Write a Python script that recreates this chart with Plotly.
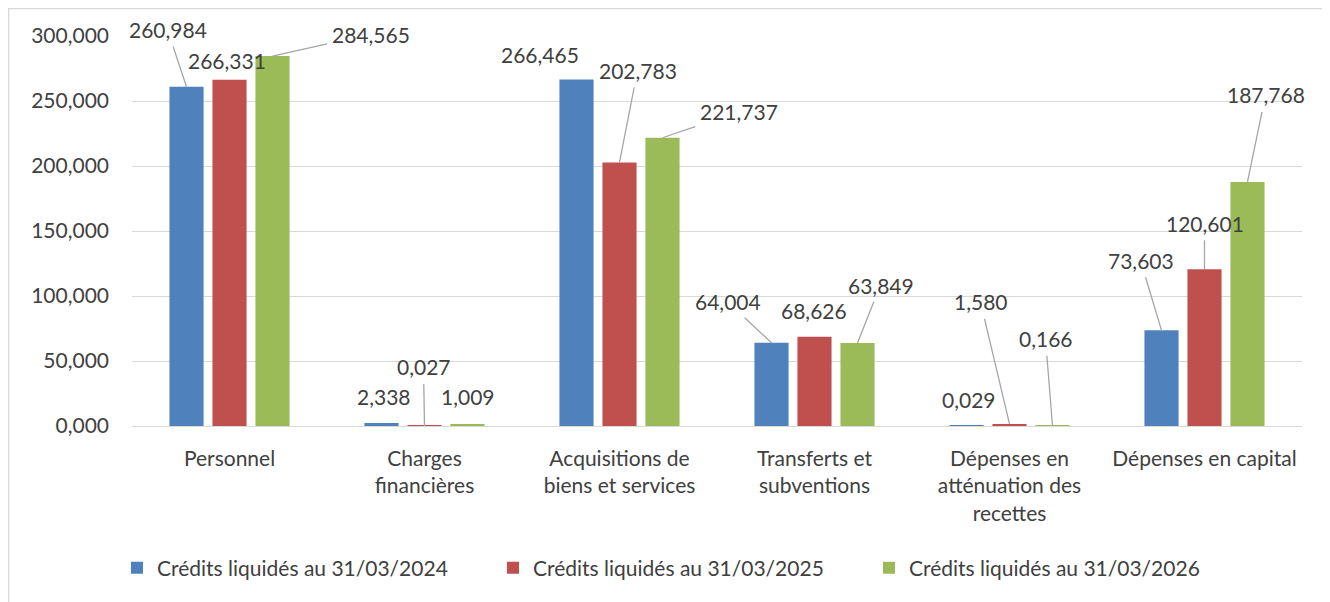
import plotly.graph_objects as go

# ---- data ----
categories = ["Personnel", "Charges financières", "Acquisitions de biens et services",
              "Transferts et subventions", "Dépenses en atténuation des recettes",
              "Dépenses en capital"]
tick_labels = ["Personnel", "Charges<br>financières", "Acquisitions de<br>biens et services",
               "Transferts et<br>subventions", "Dépenses en<br>atténuation des<br>recettes",
               "Dépenses en capital"]
series_names = ["Crédits liquidés au 31/03/2024", "Crédits liquidés au 31/03/2025",
                "Crédits liquidés au 31/03/2026"]
credits_2024 = [260.984, 2.338, 266.465, 64.004, 0.029, 73.603]
credits_2025 = [266.331, 0.027, 202.783, 68.626, 1.580, 120.601]
credits_2026 = [284.565, 1.009, 221.737, 63.849, 0.166, 187.768]
y_tick_values = [0, 50, 100, 150, 200, 250, 300]

# ---- styles ----
colors = ["#4F81BD", "#C0504D", "#9BBB59"]
text_color = "#404040"
grid_color = "#D9D9D9"
leader_color = "#A6A6A6"
FONT = "Lato"
FS = 21

# label offsets (pixels, relative to bar top) and whether a leader line is drawn
label_offsets = [
    [(-19, -57, True), (2, -26, False), (-37, -25, False), (-44, -41, True), (2, -26, False), (-21, -70, True)],
    [(-3, -19, False), (-1, -59, True), (18, -92, True), (-1, -26, False), (-29, -122, True), (0, -46, True)],
    [(98, -22, True), (0, -28, False), (76, -26, True), (23, -58, True), (-7, -87, True), (18, -87, True)],
]

step = 0.2205
bar_w = 0.175
series = [credits_2024, credits_2025, credits_2026]

fig = go.Figure()
idx = list(range(len(categories)))
for k, (name, vals) in enumerate(zip(series_names, series)):
    fig.add_trace(go.Bar(
        x=[i + (k - 1) * step for i in idx], y=vals, name=name, width=bar_w,
        marker=dict(color=colors[k], line=dict(width=0)),
        hovertext=categories,
    ))

annotations = []
for k, vals in enumerate(series):
    for i, v in enumerate(vals):
        ax, ay, line = label_offsets[k][i]
        annotations.append(dict(
            x=i + (k - 1) * step, y=v, xref="x", yref="y",
            text=f"{v:.3f}".replace(".", ","),
            showarrow=True, ax=ax, ay=ay, arrowhead=0, standoff=0, startstandoff=3,
            arrowwidth=1.3, arrowcolor=leader_color if line else "rgba(0,0,0,0)",
            font=dict(family=FONT, size=FS, color=text_color),
        ))

# page body has an 8px margin; figure is sized to fit the window
OFF = 8
W, H = 1330 - OFF, 602 - OFF
L, T = 124, 28
PW, PH = 1170, 390
R, B = W - L - PW, H - T - PH

def px_x(p):  # page pixel -> paper x
    return (p - OFF - L) / PW

def px_y(p):  # page pixel -> paper y
    return (T + PH - (p - OFF)) / PH

fig.update_layout(
    width=W, height=H,
    margin=dict(l=L, r=R, t=T, b=B),
    paper_bgcolor="white", plot_bgcolor="white",
    separators=",.",
    barmode="overlay",
    font=dict(family=FONT, size=FS, color=text_color),
    xaxis=dict(range=[-0.5, 5.5], tickvals=idx, ticktext=tick_labels, showgrid=False,
               zeroline=False, showline=False, ticks="", ticklabelstandoff=18,
               tickfont=dict(family=FONT, size=FS, color=text_color), fixedrange=True),
    yaxis=dict(range=[0, 300], tickvals=y_tick_values, tickformat=".3f", showgrid=True,
               gridcolor=grid_color, gridwidth=1.3, zeroline=True, zerolinecolor=grid_color,
               zerolinewidth=1.3, showline=False, ticks="", ticklabelstandoff=22,
               tickfont=dict(family=FONT, size=FS, color=text_color), fixedrange=True),
    legend=dict(orientation="h", x=px_x(117), xanchor="left", y=px_y(568), yanchor="middle",
                entrywidth=331, entrywidthmode="pixels", itemclick=False,
                font=dict(family=FONT, size=FS, color=text_color), traceorder="normal"),
    annotations=annotations,
    shapes=[dict(type="rect", xref="paper", yref="paper",
                 x0=px_x(8.7), x1=px_x(1326), y0=px_y(620), y1=px_y(8.7),
                 line=dict(color=grid_color, width=1.3), fillcolor="rgba(0,0,0,0)", layer="below")],
)

fig.write_html("out.html")
